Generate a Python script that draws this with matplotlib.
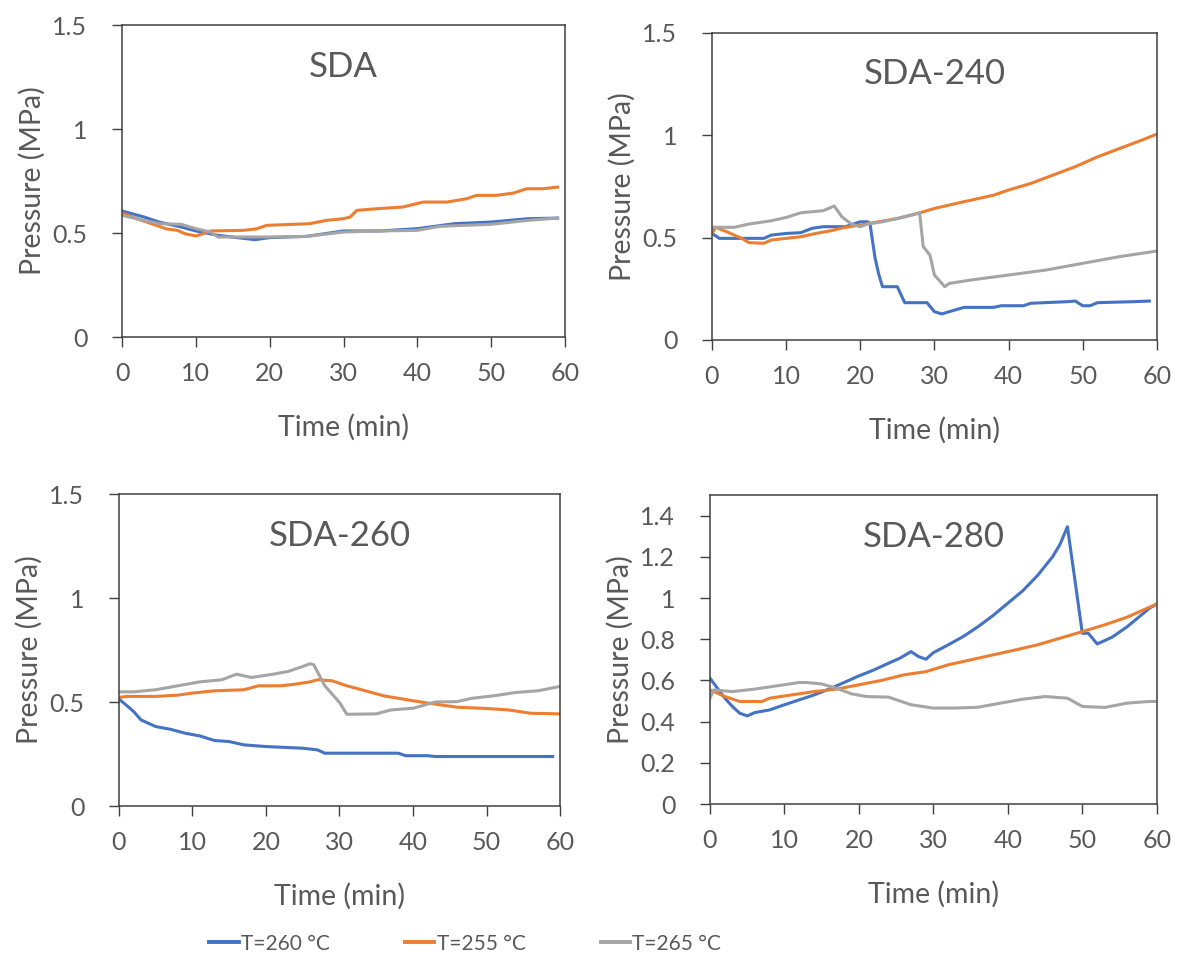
import matplotlib
matplotlib.use("Agg")
import matplotlib.pyplot as plt
from matplotlib.lines import Line2D

plt.rcParams['font.family'] = ['Lato', 'DejaVu Sans']

# colours of the three temperatures
c_blue = '#4472C4'
c_orange = '#ED7D31'
c_gray = '#A5A5A5'
txt = '#595959'

# ---- SDA ----
sda_blue_t = [0, 3, 5, 8, 10, 13, 18, 20, 25, 30, 35, 40, 45, 50, 55, 59]
sda_blue_p = [0.606, 0.577, 0.553, 0.529, 0.51, 0.489, 0.468, 0.478, 0.484, 0.51, 0.51, 0.521, 0.545, 0.553, 0.569, 0.572]
sda_orange_t = [0, 2, 4, 6, 7.5, 8.5, 10, 11, 12, 16.4, 18.2, 19.6, 25.4, 27.7, 30, 30.9, 31.8, 34.5, 38, 40.8, 44, 46.7, 48, 50.7, 53, 54.8, 57, 59]
sda_orange_p = [0.596, 0.569, 0.545, 0.52, 0.513, 0.497, 0.486, 0.497, 0.51, 0.513, 0.52, 0.537, 0.545, 0.561, 0.569, 0.577, 0.609, 0.617, 0.625, 0.649, 0.649, 0.665, 0.681, 0.681, 0.692, 0.713, 0.713, 0.721]
sda_gray_t = [0, 3, 5, 8, 10, 12, 13, 20, 25, 30, 35, 40, 43, 50, 55, 59]
sda_gray_p = [0.585, 0.561, 0.545, 0.542, 0.521, 0.505, 0.481, 0.481, 0.484, 0.505, 0.51, 0.513, 0.532, 0.542, 0.561, 0.572]

# ---- SDA-240 ----
s240_blue_t = [0, 1, 7, 8, 10, 12, 13.5, 15, 18, 20, 21, 21.3, 22, 22.5, 23, 25, 26, 29, 30, 31, 32, 34, 38, 39, 42, 43, 48, 49, 50, 51, 52, 57, 59]
s240_blue_p = [0.52, 0.496, 0.496, 0.512, 0.52, 0.524, 0.545, 0.553, 0.553, 0.577, 0.577, 0.57, 0.40, 0.32, 0.26, 0.26, 0.182, 0.182, 0.138, 0.127, 0.138, 0.159, 0.159, 0.167, 0.167, 0.179, 0.187, 0.19, 0.167, 0.167, 0.182, 0.187, 0.19]
s240_orange_t = [0, 0.5, 2, 4, 5, 7, 8, 10, 12, 14, 16, 18, 20, 22, 25, 28, 30, 33, 35, 38, 40, 43, 46, 49, 52, 55, 58, 60]
s240_orange_p = [0.52, 0.55, 0.528, 0.496, 0.475, 0.472, 0.488, 0.496, 0.504, 0.52, 0.533, 0.55, 0.561, 0.574, 0.593, 0.62, 0.642, 0.667, 0.683, 0.707, 0.732, 0.764, 0.805, 0.846, 0.894, 0.935, 0.976, 1.005]
s240_gray_t = [0, 3, 5, 8, 10, 12, 15, 16.5, 17.5, 18.8, 20, 21, 23, 25, 27, 28, 28.5, 29.4, 30, 31.4, 32, 35, 40, 45, 50, 55, 60]
s240_gray_p = [0.55, 0.55, 0.566, 0.582, 0.598, 0.621, 0.631, 0.654, 0.602, 0.566, 0.553, 0.566, 0.577, 0.593, 0.61, 0.621, 0.455, 0.415, 0.317, 0.26, 0.276, 0.293, 0.317, 0.341, 0.374, 0.407, 0.434]

# ---- SDA-260 ----
s260_blue_t = [0, 1, 2, 3, 5, 7, 9, 11, 13, 15, 17, 20, 25, 27, 28, 33, 38, 39, 42, 43, 59]
s260_blue_p = [0.514, 0.485, 0.454, 0.414, 0.382, 0.369, 0.35, 0.337, 0.315, 0.31, 0.294, 0.286, 0.278, 0.27, 0.254, 0.254, 0.254, 0.242, 0.242, 0.238, 0.238]
s260_orange_t = [0, 1, 5, 8, 10, 13, 17, 19, 22, 24, 26, 27, 29, 31, 33, 36, 40, 43, 46, 50, 53, 56, 60]
s260_orange_p = [0.522, 0.527, 0.527, 0.533, 0.543, 0.554, 0.559, 0.578, 0.578, 0.586, 0.597, 0.607, 0.602, 0.578, 0.559, 0.53, 0.506, 0.49, 0.475, 0.469, 0.462, 0.446, 0.443]
s260_gray_t = [0, 2, 5, 8, 11, 14, 16, 18, 21, 23, 25, 26, 26.5, 28, 30, 31, 35, 37, 40, 43, 46, 48, 51, 54, 57, 60]
s260_gray_p = [0.549, 0.549, 0.559, 0.578, 0.597, 0.607, 0.634, 0.618, 0.634, 0.647, 0.671, 0.684, 0.679, 0.578, 0.498, 0.441, 0.443, 0.462, 0.47, 0.5, 0.502, 0.518, 0.53, 0.546, 0.554, 0.575]

# ---- SDA-280 ----
s280_blue_t = [0, 1, 2, 3, 4, 5, 6, 8, 10, 12, 14, 16, 18, 20, 22, 24, 25.5, 27, 28, 29, 30, 32, 34, 36, 38, 40, 42, 44, 46, 47, 48, 49, 50, 50.8, 52, 54, 56, 58, 59, 60]
s280_blue_p = [0.611, 0.562, 0.514, 0.474, 0.441, 0.428, 0.444, 0.457, 0.482, 0.506, 0.53, 0.558, 0.59, 0.622, 0.651, 0.684, 0.708, 0.74, 0.716, 0.703, 0.735, 0.773, 0.813, 0.861, 0.915, 0.975, 1.035, 1.11, 1.2, 1.26, 1.346, 1.088, 0.829, 0.829, 0.777, 0.81, 0.86, 0.92, 0.95, 0.971]
s280_orange_t = [0, 2, 4, 7, 8, 11, 14, 17, 20, 23, 26, 29, 32, 35, 38, 41, 44, 47, 50, 53, 56, 58, 60]
s280_orange_p = [0.554, 0.522, 0.498, 0.498, 0.514, 0.53, 0.546, 0.558, 0.579, 0.6, 0.627, 0.643, 0.676, 0.7, 0.724, 0.748, 0.773, 0.805, 0.837, 0.87, 0.907, 0.939, 0.971]
s280_gray_t = [0, 0.5, 3, 6, 9, 12, 13, 15, 17, 19, 21, 24, 27, 30, 33, 36, 39, 42, 45, 48, 50, 53, 56, 59, 60]
s280_gray_p = [0.514, 0.554, 0.546, 0.558, 0.574, 0.59, 0.59, 0.583, 0.562, 0.535, 0.522, 0.519, 0.482, 0.466, 0.466, 0.47, 0.49, 0.509, 0.522, 0.514, 0.474, 0.469, 0.49, 0.498, 0.498]

panels = [
    ('SDA', [0.1036, 0.650, 0.376, 0.324], 0.5,
     [(sda_blue_t, sda_blue_p), (sda_orange_t, sda_orange_p), (sda_gray_t, sda_gray_p)]),
    ('SDA-240', [0.6044, 0.647, 0.3776, 0.319], 0.5,
     [(s240_blue_t, s240_blue_p), (s240_orange_t, s240_orange_p), (s240_gray_t, s240_gray_p)]),
    ('SDA-260', [0.101, 0.163, 0.3744, 0.324], 0.5,
     [(s260_blue_t, s260_blue_p), (s260_orange_t, s260_orange_p), (s260_gray_t, s260_gray_p)]),
    ('SDA-280', [0.6027, 0.165, 0.3793, 0.321], 0.2,
     [(s280_blue_t, s280_blue_p), (s280_orange_t, s280_orange_p), (s280_gray_t, s280_gray_p)]),
]
colors = [c_blue, c_orange, c_gray]
labels = ['T=260 °C', 'T=255 °C', 'T=265 °C']

fig = plt.figure(figsize=(11.78, 9.63), dpi=100)

for title, pos, step, series in panels:
    ax = fig.add_axes(pos)
    for (t, p), c in zip(series, colors):
        ax.plot(t, p, color=c, lw=2.2)
    ax.set_xlim(0, 60)
    ax.set_ylim(0, 1.5)
    ax.set_xticks(range(0, 61, 10))
    if step == 0.5:
        ax.set_yticks([0, 0.5, 1, 1.5])
        ax.set_yticklabels(['0', '0.5', '1', '1.5'])
    else:
        yt = [0, 0.2, 0.4, 0.6, 0.8, 1.0, 1.2, 1.4]
        ax.set_yticks(yt)
        ax.set_yticklabels(['0', '0.2', '0.4', '0.6', '0.8', '1', '1.2', '1.4'])
    for s in ax.spines.values():
        s.set_color('#404040')
        s.set_linewidth(1.1)
    ax.tick_params(axis='x', direction='out', length=7, width=1, color='#404040',
                   labelsize=18, labelcolor=txt, pad=11)
    ax.tick_params(axis='y', direction='out', length=7, width=1, color='#404040',
                   labelsize=18, labelcolor=txt, pad=18)
    ax.set_xlabel('Time (min)', fontsize=20.5, color=txt, labelpad=21)
    ax.set_ylabel('Pressure (MPa)', fontsize=20.5, color=txt, labelpad=5)
    ax.text(0.5, 0.865, title, transform=ax.transAxes, ha='center', va='center',
            fontsize=25, color=txt)

handles = [Line2D([], [], color=c, lw=2.8) for c in colors]
fig.legend(handles, labels, loc='center', bbox_to_anchor=(0.395, 0.02), ncol=3,
           frameon=False, handlelength=1.4, handletextpad=0.12, columnspacing=3.6,
           prop={'size': 15}, labelcolor=txt)

fig.savefig('out.png', dpi=100)
